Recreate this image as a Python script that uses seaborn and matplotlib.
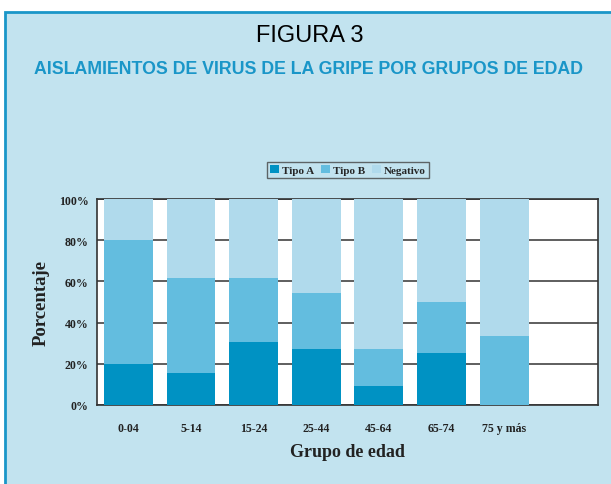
import matplotlib
matplotlib.use("Agg")
import matplotlib.pyplot as plt
import matplotlib.patches as mpatches
import seaborn as sns
import pandas as pd

# data (percent of samples per age group)
grupos = ["0-04", "5-14", "15-24", "25-44", "45-64", "65-74", "75 y más"]
tipo_a = [20.0, 15.4, 30.8, 27.3, 9.1, 25.0, 0.0]
tipo_b = [60.0, 46.2, 30.8, 27.3, 18.2, 25.0, 33.3]
negativo = [100 - a - b for a, b in zip(tipo_a, tipo_b)]
series = ["Tipo A", "Tipo B", "Negativo"]
colores = ["#0092c3", "#63bddf", "#b0daec"]

FONDO = "#c2e3ef"
SERIF = "Liberation Serif"

df = pd.DataFrame({"grupo": grupos, "Tipo A": tipo_a,
                   "Tipo B": tipo_b, "Negativo": negativo})
# cumulative tops for stacking
df["top_a"] = df["Tipo A"]
df["top_b"] = df["Tipo A"] + df["Tipo B"]
df["top_n"] = df["top_b"] + df["Negativo"]

sns.set_style("white")
fig = plt.figure(figsize=(6.11, 4.85), dpi=100, facecolor="white")

# blue panel behind everything
panel = mpatches.Rectangle((0.008, -0.05), 1.2, 1.023, transform=fig.transFigure,
                           facecolor=FONDO, edgecolor="#1a96c8", linewidth=2, zorder=-10)
fig.add_artist(panel)

ax = fig.add_axes([0.1588, 0.1629, 0.8200, 0.4247])
ax.set_zorder(5)
ax.set_facecolor("white")

for col, c in zip(["top_n", "top_b", "top_a"], colores[::-1]):
    sns.barplot(data=df, x="grupo", y=col, color=c, width=0.78, ax=ax,
                saturation=1, linewidth=0, edgecolor=c, zorder=3)

ax.set_xlim(-0.5, 7.5)
ax.set_ylim(0, 100)
ax.set_yticks([0, 20, 40, 60, 80, 100])
ax.set_yticklabels([f"{v}%" for v in range(0, 101, 20)])
ax.yaxis.grid(True, color="#333333", linewidth=1.1, zorder=1)
ax.set_axisbelow(True)

# category labels on major ticks, visible ticks at boundaries
ax.set_xticks(range(len(grupos)))
ax.set_xticklabels(grupos)
ax.set_xticks([i - 0.5 for i in range(9)], minor=True)
ax.tick_params(axis="x", which="major", length=0, pad=12)
ax.tick_params(axis="x", which="minor", length=4, width=1, color="#333333", direction="out")
ax.tick_params(axis="y", length=4, width=1, color="#333333", direction="out", pad=2)

for lab in ax.get_xticklabels() + ax.get_yticklabels():
    lab.set_fontfamily(SERIF)
    lab.set_fontweight("bold")
    lab.set_fontsize(8.6)
    lab.set_color("#222222")

for s in ax.spines.values():
    s.set_visible(True)
    s.set_color("#333333")
    s.set_linewidth(1.2)

ax.set_xlabel("Grupo de edad", fontfamily=SERIF, fontweight="bold", fontsize=13,
              color="#222222", labelpad=7)
ax.set_ylabel("Porcentaje", fontfamily=SERIF, fontweight="bold", fontsize=13.5,
              color="#222222", labelpad=7)

handles = [mpatches.Patch(facecolor=c, edgecolor="none") for c in colores]
leg = fig.legend(handles, series, loc="center", bbox_to_anchor=(0.5696, 0.6474),
                 ncol=3, frameon=True, fancybox=False, handlelength=0.8,
                 handleheight=0.8, handletextpad=0.3, columnspacing=0.6,
                 borderpad=0.3, prop={"family": SERIF, "weight": "bold", "size": 8})
leg.get_frame().set_edgecolor("#444444")
leg.get_frame().set_facecolor(FONDO)
leg.get_frame().set_linewidth(1.0)

fig.text(0.507, 0.925, "FIGURA 3", ha="center", va="center", fontsize=17,
         family=["Liberation Sans", "DejaVu Sans"], color="black")
fig.text(0.505, 0.856, "AISLAMIENTOS DE VIRUS DE LA GRIPE POR GRUPOS DE EDAD",
         ha="center", va="center", fontsize=12.8, fontweight="bold",
         family=["Liberation Sans", "DejaVu Sans"], color="#1a96c8")

fig.savefig("out.png", dpi=100, facecolor="white")
